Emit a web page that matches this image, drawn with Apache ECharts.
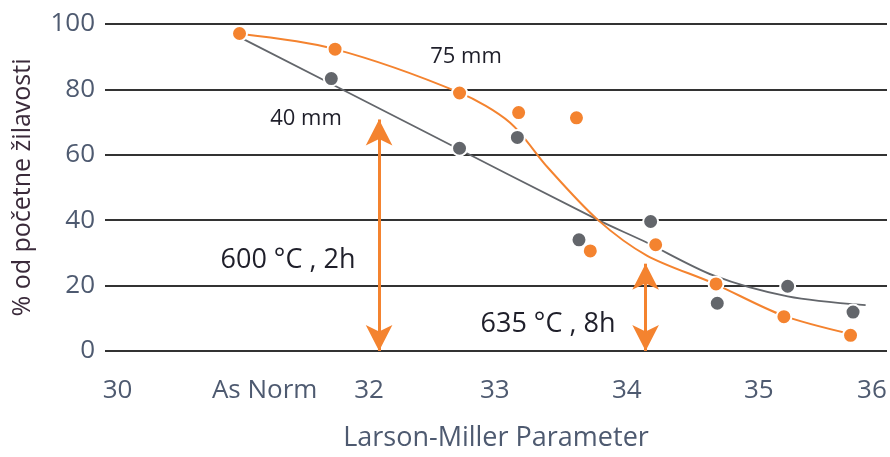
<!DOCTYPE html>
<html><head><meta charset="utf-8">
<script src="https://cdn.jsdelivr.net/npm/echarts@6/dist/echarts.min.js"></script>
<style>html,body{margin:0;padding:0;background:#fff}#c{width:890px;height:457px}</style>
</head><body><div id="c"></div>
<script>
// tick labels
const xTickValues = [30, 31.17, 32, 33, 34.05, 35.1, 36];
const xTickLabels = ['30', 'As Norm', '32', '33', '34', '35', '36'];

// measured points, 75 mm (orange)
const x75 = [30.97, 31.73, 32.72, 33.19, 33.65, 33.76, 34.28, 34.76, 35.30, 35.83];
const y75 = [97.1, 92.3, 78.9, 72.9, 71.3, 30.6, 32.5, 20.5, 10.5, 4.8];
// measured points, 40 mm (grey)
const x40 = [31.70, 32.72, 33.18, 33.67, 34.24, 34.77, 35.33, 35.85];
const y40 = [83.3, 62.0, 65.3, 34.0, 39.6, 14.6, 19.8, 11.9];

// fitted curves
const fit75X = [30.97, 31.72, 32.72, 33.12, 33.42, 33.82, 34.21, 34.74, 35.29, 35.83];
const fit75Y = [97.0, 92.4, 79.0, 69.9, 56.2, 40.1, 29.2, 20.7, 10.9, 5.2];
const fit40X = [30.97, 32.39, 33.82, 34.18, 34.74, 35.33, 35.95];
const fit40Y = [96.0, 68.1, 40.1, 33.7, 23.1, 16.7, 14.0];

// arrows (x position, top value)
const arrowX = [32.08, 34.20];
const arrowTop = [70.8, 26.7];

const ORANGE = '#F4832F';
const GREY = '#63666B';
const TXT = '#4e5a70';
const FONT = 'Open Sans';

const zip = (a, b) => a.map((v, i) => [v, b[i]]);

const chart = echarts.init(document.getElementById('c'), null, {renderer: 'canvas'});
chart.setOption({
  animation: false,
  backgroundColor: '#fff',
  grid: {left: 105, right: 3, top: 24, bottom: 104},
  xAxis: {
    type: 'value', min: 29.9, max: 36.12,
    name: 'Larson-Miller Parameter', nameLocation: 'middle', nameGap: 74,
    nameTextStyle: {fontFamily: FONT, fontSize: 27, color: TXT},
    axisLine: {show: false}, axisTick: {show: false}, splitLine: {show: false},
    axisLabel: {
      customValues: xTickValues, margin: 27,
      fontFamily: FONT, fontSize: 26, color: TXT,
      formatter: v => { const i = xTickValues.findIndex(t => Math.abs(t - v) < 1e-6); return i >= 0 ? xTickLabels[i] : ''; }
    }
  },
  yAxis: {
    type: 'value', min: 0, max: 100, interval: 20,
    name: '% od početne žilavosti', nameLocation: 'middle', nameGap: 70,
    nameTextStyle: {fontFamily: FONT, fontSize: 25, color: '#3a2a3a'},
    axisLine: {show: false}, axisTick: {show: false},
    axisLabel: {margin: 10, fontFamily: FONT, fontSize: 26, color: TXT},
    splitLine: {lineStyle: {color: '#333', width: 2}}
  },
  series: [
    {type: 'line', data: zip(fit40X, fit40Y), smooth: 0.3, symbol: 'none',
     lineStyle: {color: GREY, width: 1.8}, z: 2},
    {type: 'line', data: zip(fit75X, fit75Y), smooth: 0.3, symbol: 'none',
     lineStyle: {color: ORANGE, width: 2}, z: 3},
    {type: 'scatter', data: zip(x40, y40), symbolSize: 15,
     itemStyle: {color: GREY, borderColor: '#fff', borderWidth: 2, opacity: 1}, z: 4},
    {type: 'scatter', data: zip(x75, y75), symbolSize: 15,
     itemStyle: {color: ORANGE, borderColor: '#fff', borderWidth: 2, opacity: 1}, z: 5},
    {type: 'line', data: [], z: 6,
     markLine: {
       silent: true, symbol: ['arrow', 'arrow'], symbolSize: [20, 26],
       label: {show: false},
       lineStyle: {color: ORANGE, width: 3, type: 'solid'},
       data: arrowX.map((x, i) => [{coord: [x, 0]}, {coord: [x, arrowTop[i]]}])
     }}
  ],
  graphic: [
    {type: 'text', x: 306, y: 119, style: {text: '40 mm', fontFamily: FONT, fontSize: 22, fill: '#1f1f2a', align: 'center', verticalAlign: 'middle'}},
    {type: 'text', x: 466, y: 57, style: {text: '75 mm', fontFamily: FONT, fontSize: 22, fill: '#1f1f2a', align: 'center', verticalAlign: 'middle'}},
    {type: 'text', x: 288, y: 260, style: {text: '600 °C , 2h', fontFamily: FONT, fontSize: 27, fill: '#1f1f2a', align: 'center', verticalAlign: 'middle'}},
    {type: 'text', x: 548, y: 324, style: {text: '635 °C , 8h', fontFamily: FONT, fontSize: 27, fill: '#1f1f2a', align: 'center', verticalAlign: 'middle'}}
  ]
});
</script></body></html>
